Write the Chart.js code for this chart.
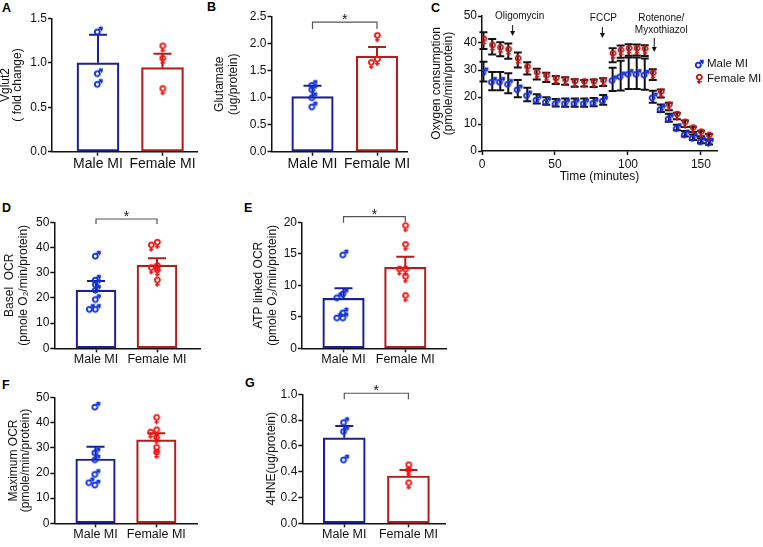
<!DOCTYPE html>
<html lang="en">
<head>
<meta charset="utf-8">
<script src="https://cdn.jsdelivr.net/npm/chart.js@4.4.1/dist/chart.umd.min.js"></script>
<style>
  body { margin: 0; width: 763px; height: 547px; background: #fff; position: relative; overflow: hidden; font-family: "Liberation Sans", Arial, sans-serif; }
  canvas { position: absolute; }
  .letra { position: absolute; font-weight: bold; font-size: 12.5px; line-height: 12px; color: #000; }
</style>
</head>
<body>
<div class="letra" style="left:2px;top:2px">A</div>
<div class="letra" style="left:207px;top:1px">B</div>
<div class="letra" style="left:431px;top:2px">C</div>
<div class="letra" style="left:2px;top:202px">D</div>
<div class="letra" style="left:244px;top:202px">E</div>
<div class="letra" style="left:2px;top:379px">F</div>
<div class="letra" style="left:245px;top:377px">G</div>

<canvas id="graficoA"></canvas>
<canvas id="graficoB"></canvas>
<canvas id="graficoC"></canvas>
<canvas id="graficoD"></canvas>
<canvas id="graficoE"></canvas>
<canvas id="graficoF"></canvas>
<canvas id="graficoG"></canvas>

<script>
const CATEGORIAS = ["Male MI", "Female MI"];

// A - Vglut2
const mediasA = [1.0, 0.945];
const semA = [0.315, 0.155];
const machosA = [1.36, 0.89, 0.77];
const hembrasA = [1.17, 1.03, 0.69];

// B - Glutamate
const mediasB = [1.02, 1.77];
const semB = [0.2, 0.17];
const machosB = [1.25, 1.17, 1.02, 0.85];
const hembrasB = [2.12, 1.68, 1.62];

// C - consumo de oxigeno
const tiemposC = [1, 7, 12.5, 18, 24.5, 31, 37.5, 44, 50.5, 57, 63.5, 70, 76.5, 83, 89.5, 95, 100.5, 106, 111.5, 117, 122.5, 128, 133.5, 139, 144.5, 150, 155.5];
const machoC = [29.4, 25.9, 25.9, 25.1, 23.1, 20.9, 19.3, 18.5, 17.9, 17.9, 17.9, 17.9, 18.1, 18.9, 26.5, 27.9, 28.8, 28.8, 28.5, 20.1, 15.8, 12.3, 8.7, 6.4, 5.1, 3.8, 3.3];
const hembraC = [40.9, 38.6, 37.7, 37.0, 33.7, 30.6, 28.5, 27.3, 26.3, 25.9, 25.2, 25.1, 25.1, 25.5, 35.5, 36.8, 37.4, 37.4, 37.2, 28.3, 21.3, 16.5, 13.0, 10.1, 8.0, 6.5, 5.3];
const errorMachoC = [3.7, 3.4, 3.4, 3.7, 3.2, 2.5, 1.7, 1.4, 1.4, 1.5, 1.5, 1.5, 1.5, 1.8, 4.3, 5.5, 5.8, 5.8, 5.8, 2.2, 1.4, 1.5, 1.0, 1.0, 1.0, 0.9, 0.9];
const errorHembraC = [3.1, 2.9, 2.6, 2.8, 2.8, 2.3, 2.0, 1.7, 1.5, 1.4, 1.4, 1.2, 1.4, 1.4, 2.6, 2.3, 2.1, 2.0, 2.0, 2.0, 1.5, 1.4, 1.2, 1.2, 1.0, 1.0, 1.0];
const ticksTiempoC = [0, 50, 100, 150];

// D - Basel OCR
const mediasD = [23.1, 33.0];
const semD = [3.6, 2.7];
const machosD = [37.0, 27.5, 25.8, 23.5, 19.8, 15.9, 15.9];
const hembrasD = [41.4, 40.3, 32.1, 31.3, 30.4, 26.4];

// E - ATP linked OCR
const mediasE = [7.94, 12.86];
const semE = [1.58, 1.68];
const machosE = [15.0, 8.8, 8.2, 5.8, 5.0, 5.0];
const hembrasE = [19.2, 16.2, 12.3, 12.3, 11.1, 8.1];

// F - Maximum OCR
const mediasF = [25.6, 33.2];
const semF = [4.9, 2.6];
const machosF = [46.7, 28.5, 25.7, 19.9, 15.7, 16.6];
const hembrasF = [41.4, 36.5, 35.6, 33.5, 27.6, 29.5];

// G - 4HNE
const mediasG = [0.663, 0.367];
const semG = [0.091, 0.046];
const machosG = [0.79, 0.72, 0.5];
const hembrasG = [0.44, 0.4, 0.3];

const AZUL_BARRA = "#1c1f96";
const ROJO_BARRA = "#b01e1e";
const AZUL_PUNTO = "#1232dc";
const ROJO_PUNTO = "#f41414";
const AZUL_C = "#1a2fd9";
const ROJO_C = "#c41a1a";
const NEGRO = "#111";

Chart.defaults.font.family = '"Liberation Sans", Arial, sans-serif';
Chart.defaults.color = NEGRO;
Chart.defaults.animation = false;
Chart.defaults.events = [];
Chart.defaults.plugins.legend.display = false;
Chart.defaults.plugins.tooltip.enabled = false;

const crearGlifo = (simbolo, color, tam) => {
  const c = document.createElement("canvas");
  c.width = 14;
  c.height = 16;
  const ctx = c.getContext("2d");
  ctx.fillStyle = color;
  ctx.strokeStyle = color;
  ctx.lineWidth = 0.9;
  ctx.font = `bold ${tam}px "DejaVu Sans"`;
  const m = ctx.measureText(simbolo);
  const x = c.width / 2 - (m.actualBoundingBoxRight - m.actualBoundingBoxLeft) / 2;
  const y = c.height / 2 + (m.actualBoundingBoxAscent - m.actualBoundingBoxDescent) / 2;
  ctx.fillText(simbolo, x, y);
  ctx.strokeText(simbolo, x, y);
  return c;
};

const glifoMacho = crearGlifo("\u2642", AZUL_PUNTO, 10.5);
const glifoHembra = crearGlifo("\u2640", ROJO_PUNTO, 10.5);
const glifoMachoC = crearGlifo("\u2642", AZUL_C, 10.5);
const glifoHembraC = crearGlifo("\u2640", ROJO_C, 10.5);

// separa puntos que se pisan, como hace Prism
const distribuir = (valores, centro, pxY, pxX) => {
  const colocados = [];
  return valores.map((v) => {
    const py = v * pxY;
    for (const k of [0, -1, 1, -2, 2]) {
      const dx = k * 6;
      const choca = colocados.some((p) => Math.abs(p.dx - dx) < 6 && Math.abs(p.py - py) < 4);
      if (!choca) {
        colocados.push({ dx, py });
        return { x: centro + dx / pxX, y: v };
      }
    }
    return { x: centro, y: v };
  });
};

const pluginBarras = {
  id: "barrasError",
  afterDatasetDraw(chart, args, opts) {
    if (args.index !== 0 || !opts.medias) return;
    const { ctx, scales: { x, y } } = chart;
    ctx.save();
    ctx.lineWidth = 2;
    opts.medias.forEach((media, i) => {
      const px = x.getPixelForValue(i);
      const y0 = y.getPixelForValue(media);
      const y1 = y.getPixelForValue(media + opts.sem[i]);
      ctx.strokeStyle = i === 0 ? AZUL_BARRA : ROJO_BARRA;
      ctx.beginPath();
      ctx.moveTo(px, y0);
      ctx.lineTo(px, y1);
      ctx.moveTo(px - 9, y1);
      ctx.lineTo(px + 9, y1);
      ctx.stroke();
    });
    ctx.restore();
  },
  afterDraw(chart, args, opts) {
    const sig = opts.significancia;
    if (!sig) return;
    const { ctx, scales: { x, y } } = chart;
    const x0 = x.getPixelForValue(0);
    const x1 = x.getPixelForValue(1);
    const yb = y.getPixelForValue(sig.y);
    ctx.save();
    ctx.strokeStyle = "#555";
    ctx.lineWidth = 1.2;
    ctx.beginPath();
    ctx.moveTo(x0, yb + sig.caida);
    ctx.lineTo(x0, yb);
    ctx.lineTo(x1, yb);
    ctx.lineTo(x1, yb + sig.caida);
    ctx.stroke();
    ctx.fillStyle = NEGRO;
    ctx.font = '14px "Liberation Sans", Arial';
    ctx.textAlign = "center";
    ctx.textBaseline = "alphabetic";
    ctx.fillText("*", (x0 + x1) / 2, yb + 2);
    ctx.restore();
  },
};

const ubicarCanvas = (canvas, caja) => {
  canvas.width = caja.ancho;
  canvas.height = caja.alto;
  canvas.style.left = caja.izq + "px";
  canvas.style.top = caja.arr + "px";
};

const crearPanelBarras = (id, cfg) => {
  const canvas = document.getElementById(id);
  const { caja, area } = cfg;
  ubicarCanvas(canvas, caja);

  const pxY = (area.inf - area.sup) / cfg.yMax;
  const pxX = (area.der - area.izq) / (cfg.xMax - cfg.xMin);

  return new Chart(canvas, {
    type: "bar",
    data: {
      datasets: [
        {
          type: "bar",
          data: cfg.medias.map((m, i) => ({ x: i, y: m })),
          backgroundColor: "#ffffff",
          borderColor: [AZUL_BARRA, ROJO_BARRA],
          borderWidth: 2.2,
          borderSkipped: false,
          barThickness: cfg.grosor,
          order: 2,
        },
        {
          type: "scatter",
          data: distribuir(cfg.machos, 0, pxY, pxX),
          pointStyle: glifoMacho,
          order: 1,
        },
        {
          type: "scatter",
          data: distribuir(cfg.hembras, 1, pxY, pxX),
          pointStyle: glifoHembra,
          order: 1,
        },
      ],
    },
    options: {
      responsive: false,
      layout: {
        padding: {
          left: 0,
          top: area.sup - caja.arr,
          right: caja.izq + caja.ancho - area.der,
          bottom: 0,
        },
      },
      plugins: {
        barrasError: { medias: cfg.medias, sem: cfg.sem, significancia: cfg.significancia },
      },
      scales: {
        x: {
          type: "linear",
          min: cfg.xMin,
          max: cfg.xMax,
          offset: false,
          afterBuildTicks: (eje) => {
            eje.ticks = [{ value: 0 }, { value: 1 }];
          },
          afterFit: (eje) => {
            eje.height = caja.arr + caja.alto - area.inf;
          },
          ticks: {
            callback: (v) => CATEGORIAS[Math.round(v)],
            font: { size: cfg.tamCategoria },
            color: NEGRO,
            padding: 0,
            maxRotation: 0,
            autoSkip: false,
          },
          grid: { offset: false, drawOnChartArea: false, tickLength: 4, tickWidth: 1.5, tickColor: NEGRO },
          border: { color: NEGRO, width: 1.5 },
        },
        y: {
          min: 0,
          max: cfg.yMax,
          ticks: {
            stepSize: cfg.paso,
            callback: (v) => v.toFixed(cfg.decimales),
            font: { size: 12 },
            color: NEGRO,
            padding: 1,
          },
          grid: { drawOnChartArea: false, tickLength: 4, tickWidth: 1.5, tickColor: NEGRO },
          border: { color: NEGRO, width: 1.5 },
          title: {
            display: true,
            text: cfg.tituloY,
            color: NEGRO,
            font: { size: 12, lineHeight: cfg.interlinea },
            padding: { top: cfg.margenTitulo, bottom: 0 },
          },
          afterFit: (eje) => {
            eje.width = area.izq - caja.izq;
          },
        },
      },
    },
    plugins: [pluginBarras],
  });
};

const pluginSeahorse = {
  id: "seahorse",
  beforeDatasetsDraw(chart, args, opts) {
    const { ctx, scales: { x, y } } = chart;
    ctx.save();
    ctx.strokeStyle = NEGRO;
    ctx.lineWidth = 2;
    opts.series.forEach((serie) => {
      serie.valores.forEach((v, i) => {
        const px = x.getPixelForValue(opts.tiempos[i]);
        const ya = y.getPixelForValue(v + serie.errores[i]);
        const yb = y.getPixelForValue(v - serie.errores[i]);
        ctx.beginPath();
        ctx.moveTo(px, ya);
        ctx.lineTo(px, yb);
        ctx.moveTo(px - 4, ya);
        ctx.lineTo(px + 4, ya);
        ctx.moveTo(px - 4, yb);
        ctx.lineTo(px + 4, yb);
        ctx.stroke();
      });
    });
    ctx.restore();
  },
  afterDraw(chart, args, opts) {
    const { ctx, chartArea, scales: { x } } = chart;
    ctx.save();
    ctx.fillStyle = NEGRO;
    ctx.strokeStyle = NEGRO;
    ctx.lineWidth = 1;
    ctx.font = '10px "Liberation Sans", Arial';
    ctx.textAlign = "center";
    ctx.textBaseline = "middle";
    opts.marcadores.forEach((m) => {
      const px = x.getPixelForValue(m.t);
      m.lineas.forEach((linea, i) => {
        ctx.fillText(linea, px + m.dxTexto, chartArea.top + m.yTexto[i]);
      });
      const y0 = chartArea.top + m.flecha[0];
      const y1 = chartArea.top + m.flecha[1];
      ctx.beginPath();
      ctx.moveTo(px, y0);
      ctx.lineTo(px, y1 - 4);
      ctx.stroke();
      ctx.beginPath();
      ctx.moveTo(px - 2.5, y1 - 5);
      ctx.lineTo(px + 2.5, y1 - 5);
      ctx.lineTo(px, y1);
      ctx.closePath();
      ctx.fill();
    });

    ctx.font = '11.5px "Liberation Sans", Arial';
    ctx.textAlign = "left";
    chart.data.datasets.forEach((ds, i) => {
      const gx = chartArea.right - 18;
      const gy = chartArea.top + 48 + i * 15;
      const glifo = ds.pointStyle;
      ctx.drawImage(glifo, gx - glifo.width / 2, gy - glifo.height / 2);
      ctx.fillText(ds.label, gx + 8, gy);
    });
    ctx.restore();
  },
};

const crearPanelOxigeno = () => {
  const canvas = document.getElementById("graficoC");
  const caja = { izq: 426, arr: 0, ancho: 337, alto: 188 };
  const area = { izq: 482, der: 717, sup: 16, inf: 151 };
  ubicarCanvas(canvas, caja);

  return new Chart(canvas, {
    type: "scatter",
    data: {
      datasets: [
        {
          label: "Male MI",
          data: tiemposC.map((t, i) => ({ x: t, y: machoC[i] })),
          pointStyle: glifoMachoC,
        },
        {
          label: "Female MI",
          data: tiemposC.map((t, i) => ({ x: t, y: hembraC[i] })),
          pointStyle: glifoHembraC,
        },
      ],
    },
    options: {
      responsive: false,
      layout: {
        padding: {
          left: 0,
          top: area.sup - caja.arr,
          right: caja.izq + caja.ancho - area.der,
          bottom: 0,
        },
      },
      plugins: {
        seahorse: {
          tiempos: tiemposC,
          series: [
            { valores: machoC, errores: errorMachoC },
            { valores: hembraC, errores: errorHembraC },
          ],
          marcadores: [
            { t: 21, lineas: ["Oligomycin"], dxTexto: 7, yTexto: [0], flecha: [9, 20] },
            { t: 82.5, lineas: ["FCCP"], dxTexto: 1, yTexto: [2.3], flecha: [11, 22] },
            { t: 118, lineas: ["Rotenone/", "Myxothiazol"], dxTexto: 7, yTexto: [2, 14], flecha: [22, 36] },
          ],
        },
      },
      scales: {
        x: {
          type: "linear",
          min: 0,
          max: 161,
          afterBuildTicks: (eje) => {
            eje.ticks = ticksTiempoC.map((v) => ({ value: v }));
          },
          afterFit: (eje) => {
            eje.height = caja.arr + caja.alto - area.inf;
          },
          ticks: { font: { size: 12 }, color: NEGRO, padding: 2, maxRotation: 0, autoSkip: false },
          grid: { drawOnChartArea: false, tickLength: 4, tickWidth: 1.5, tickColor: NEGRO },
          border: { color: NEGRO, width: 1.5 },
          title: {
            display: true,
            text: "Time (minutes)",
            color: NEGRO,
            font: { size: 12, lineHeight: 1 },
            padding: { top: 0, bottom: 5 },
          },
        },
        y: {
          min: 0,
          max: 50,
          ticks: { stepSize: 10, font: { size: 12 }, color: NEGRO, padding: 1 },
          grid: { drawOnChartArea: false, tickLength: 4, tickWidth: 1.5, tickColor: NEGRO },
          border: { color: NEGRO, width: 1.5 },
          title: {
            display: true,
            text: ["Oxygen consumption", "(pmole/min/protein)"],
            color: NEGRO,
            font: { size: 12, lineHeight: 1 },
            padding: { top: 5, bottom: 0 },
          },
          afterFit: (eje) => {
            eje.width = area.izq - caja.izq;
          },
        },
      },
    },
    plugins: [pluginSeahorse],
  });
};

crearPanelBarras("graficoA", {
  caja: { izq: 0, arr: 0, ancho: 213, alto: 178 },
  area: { izq: 52, der: 197, sup: 18.3, inf: 151.7 },
  xMin: -0.713, xMax: 1.535, grosor: 42,
  yMax: 1.5, paso: 0.5, decimales: 1,
  medias: mediasA, sem: semA, machos: machosA, hembras: hembrasA,
  tituloY: ["Vglut2", "( fold change)"], interlinea: 1, margenTitulo: 0,
  tamCategoria: 14,
});

crearPanelBarras("graficoB", {
  caja: { izq: 210, arr: 0, ancho: 216, alto: 178 },
  area: { izq: 271.5, der: 407, sup: 16.7, inf: 151.7 },
  xMin: -0.636, xMax: 1.465, grosor: 41.5,
  yMax: 2.5, paso: 0.5, decimales: 1,
  medias: mediasB, sem: semB, machos: machosB, hembras: hembrasB,
  tituloY: ["Glutamate", "(ug/protein)"], interlinea: 1.1, margenTitulo: 3.4,
  tamCategoria: 14,
  significancia: { y: 2.4, caida: 7 },
});

crearPanelOxigeno();

crearPanelBarras("graficoD", {
  caja: { izq: 0, arr: 180, ancho: 213, alto: 188 },
  area: { izq: 54.3, der: 200, sup: 222.3, inf: 348.3 },
  xMin: -0.684, xMax: 1.705, grosor: 40,
  yMax: 50, paso: 10, decimales: 0,
  medias: mediasD, sem: semD, machos: machosD, hembras: hembrasD,
  tituloY: ["Basel  OCR", "(pmole O\u2082/min/protein)"], interlinea: 1.2, margenTitulo: 2.3,
  tamCategoria: 12.5,
  significancia: { y: 51.3, caida: 5 },
});

crearPanelBarras("graficoE", {
  caja: { izq: 240, arr: 180, ancho: 213, alto: 188 },
  area: { izq: 302, der: 446.7, sup: 222.3, inf: 348.3 },
  xMin: -0.672, xMax: 1.67, grosor: 41.5,
  yMax: 20, paso: 5, decimales: 0,
  medias: mediasE, sem: semE, machos: machosE, hembras: hembrasE,
  tituloY: ["ATP linked OCR", "(pmole O\u2082/min/protein)"], interlinea: 1.2, margenTitulo: 11.1,
  tamCategoria: 12.5,
  significancia: { y: 20.9, caida: 6 },
});

crearPanelBarras("graficoF", {
  caja: { izq: 0, arr: 370, ancho: 213, alto: 177 },
  area: { izq: 54.3, der: 197, sup: 397.7, inf: 523.3 },
  xMin: -0.678, xMax: 1.669, grosor: 39.5,
  yMax: 50, paso: 10, decimales: 0,
  medias: mediasF, sem: semF, machos: machosF, hembras: hembrasF,
  tituloY: ["Maximum OCR", "(pmole/min/protein)"], interlinea: 1, margenTitulo: 7.3,
  tamCategoria: 12.5,
});

crearPanelBarras("graficoG", {
  caja: { izq: 240, arr: 370, ancho: 213, alto: 177 },
  area: { izq: 302.3, der: 445, sup: 394.3, inf: 523.3 },
  xMin: -0.654, xMax: 1.57, grosor: 42,
  yMax: 1, paso: 0.2, decimales: 1,
  medias: mediasG, sem: semG, machos: machosG, hembras: hembrasG,
  tituloY: "4HNE(ug/protein)", interlinea: 1, margenTitulo: 25.7,
  tamCategoria: 12.5,
  significancia: { y: 1.008, caida: 6 },
});
</script>
</body>
</html>
